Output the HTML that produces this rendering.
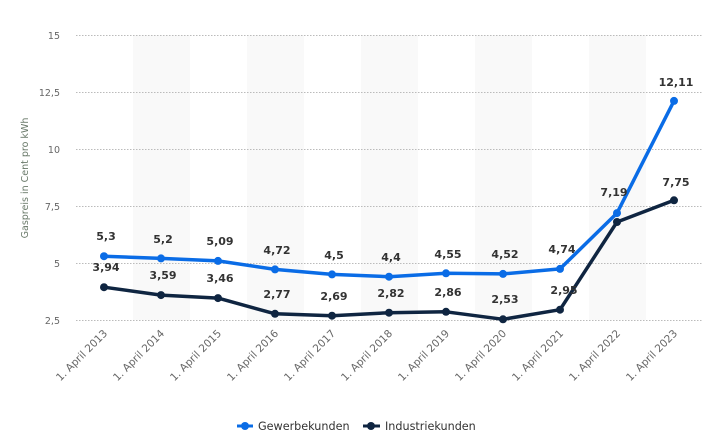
<!DOCTYPE html>
<html><head><meta charset="utf-8"><style>body{margin:0;background:#fff}svg{display:block}</style></head><body>
<svg width="715" height="445" xmlns="http://www.w3.org/2000/svg" font-family="DejaVu Sans, sans-serif">
<g fill="#f9f9f9"><rect x="133" y="35" width="57" height="285"/><rect x="247" y="35" width="57" height="285"/><rect x="361" y="35" width="57" height="285"/><rect x="475" y="35" width="57" height="285"/><rect x="589" y="35" width="57" height="285"/></g>
<g stroke="#bbb" stroke-dasharray="1.5,1.5" stroke-width="1">
<line x1="76" x2="703" y1="35.5" y2="35.5"/><line x1="76" x2="703" y1="92.5" y2="92.5"/><line x1="76" x2="703" y1="149.5" y2="149.5"/><line x1="76" x2="703" y1="206.5" y2="206.5"/><line x1="76" x2="703" y1="263.5" y2="263.5"/><line x1="76" x2="703" y1="320.5" y2="320.5"/></g>
<g fill="#666" font-size="9.5" text-anchor="end"><text x="60" y="39">15</text><text x="60" y="96">12,5</text><text x="60" y="153">10</text><text x="60" y="210">7,5</text><text x="60" y="267">5</text><text x="60" y="324">2,5</text></g>
<text transform="translate(28,178) rotate(-90)" fill="#6a7a6a" font-size="9.5" text-anchor="middle">Gaspreis in Cent pro kWh</text>
<g fill="#666" font-size="10.5" text-anchor="end">
<text transform="translate(108,334) rotate(-45)">1. April 2013</text>
<text transform="translate(165,334) rotate(-45)">1. April 2014</text>
<text transform="translate(222,334) rotate(-45)">1. April 2015</text>
<text transform="translate(279,334) rotate(-45)">1. April 2016</text>
<text transform="translate(336,334) rotate(-45)">1. April 2017</text>
<text transform="translate(393,334) rotate(-45)">1. April 2018</text>
<text transform="translate(450,334) rotate(-45)">1. April 2019</text>
<text transform="translate(507,334) rotate(-45)">1. April 2020</text>
<text transform="translate(564,334) rotate(-45)">1. April 2021</text>
<text transform="translate(621,334) rotate(-45)">1. April 2022</text>
<text transform="translate(678,334) rotate(-45)">1. April 2023</text></g>
<polyline fill="none" stroke="#0f2541" stroke-width="3.5" stroke-linejoin="round" points="104,287.2 161,295.1 218,298.1 275,313.8 332,315.7 389,312.7 446,311.8 503,319.3 560,309.7 617,222 674,200.3"/>
<polyline fill="none" stroke="#0a6ce6" stroke-width="3.5" stroke-linejoin="round" points="104,256.2 161,258.4 218,260.9 275,269.4 332,274.4 389,276.7 446,273.3 503,273.9 560,268.9 617,213.1 674,100.9"/>
<g fill="#0f2541"><circle cx="104" cy="287.2" r="4"/><circle cx="161" cy="295.1" r="4"/><circle cx="218" cy="298.1" r="4"/><circle cx="275" cy="313.8" r="4"/><circle cx="332" cy="315.7" r="4"/><circle cx="389" cy="312.7" r="4"/><circle cx="446" cy="311.8" r="4"/><circle cx="503" cy="319.3" r="4"/><circle cx="560" cy="309.7" r="4"/><circle cx="617" cy="222" r="4"/><circle cx="674" cy="200.3" r="4"/></g>
<g fill="#0a6ce6"><circle cx="104" cy="256.2" r="4"/><circle cx="161" cy="258.4" r="4"/><circle cx="218" cy="260.9" r="4"/><circle cx="275" cy="269.4" r="4"/><circle cx="332" cy="274.4" r="4"/><circle cx="389" cy="276.7" r="4"/><circle cx="446" cy="273.3" r="4"/><circle cx="503" cy="273.9" r="4"/><circle cx="560" cy="268.9" r="4"/><circle cx="617" cy="213.1" r="4"/><circle cx="674" cy="100.9" r="4"/></g>
<g fill="#333" font-size="11" font-weight="bold" text-anchor="middle">
<text x="106" y="240">5,3</text><text x="163" y="243">5,2</text><text x="220" y="245">5,09</text><text x="277" y="254">4,72</text><text x="334" y="259">4,5</text><text x="391" y="261">4,4</text><text x="448" y="258">4,55</text><text x="505" y="258">4,52</text><text x="562" y="253">4,74</text><text x="614" y="196">7,19</text><text x="676" y="86">12,11</text>
<text x="106" y="271">3,94</text><text x="163" y="279">3,59</text><text x="220" y="282">3,46</text><text x="277" y="298">2,77</text><text x="334" y="300">2,69</text><text x="391" y="297">2,82</text><text x="448" y="296">2,86</text><text x="505" y="303">2,53</text><text x="564" y="294">2,95</text><text x="676" y="186">7,75</text></g>
<line x1="237" x2="253" y1="426" y2="426" stroke="#0a6ce6" stroke-width="3"/><circle cx="245" cy="426" r="4" fill="#0a6ce6"/>
<text x="258" y="430" fill="#333" font-size="11.2">Gewerbekunden</text>
<line x1="363" x2="380" y1="426" y2="426" stroke="#0f2541" stroke-width="3"/><circle cx="371" cy="426" r="4" fill="#0f2541"/>
<text x="385" y="430" fill="#333" font-size="11.2">Industriekunden</text>
</svg>
</body></html>
